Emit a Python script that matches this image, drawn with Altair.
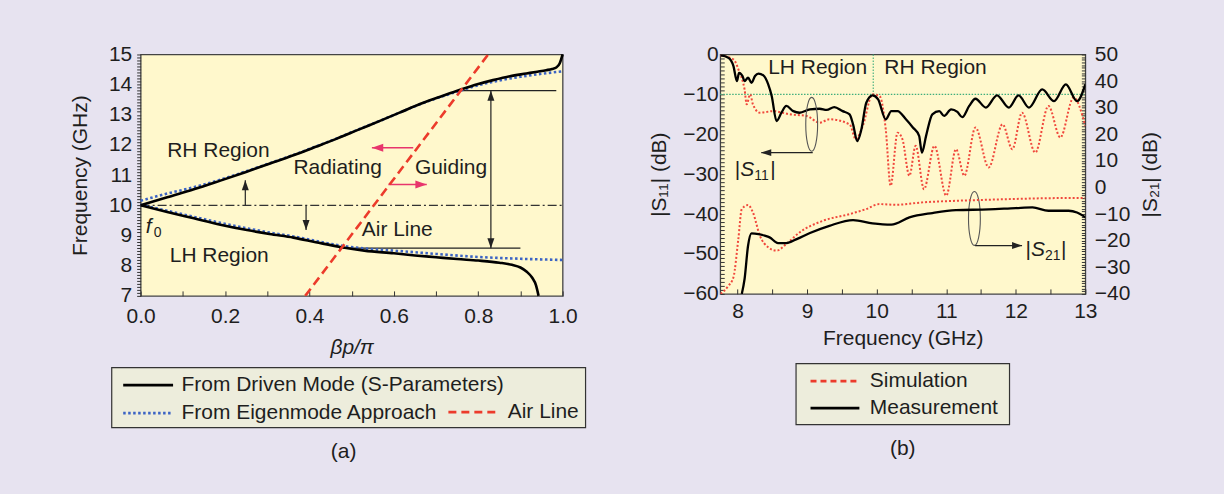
import altair as alt
import pandas as pd

FONT = "Liberation Sans"
TXT = "#1e1e1e"
BG = "#E7E3F0"
PLOT_BG = "#FFF8CC"
LEG_BG = "#EDEDDC"
BLUE = "#3B63C4"
RED = "#EC3B2B"
PINK = "#E8356C"
SIMRED = "#F0483C"
GREEN = "#3FAE7C"

# ---------------- Panel (a): dispersion diagram ----------------
drv_rh_x = [0.0, 0.063, 0.126, 0.189, 0.248, 0.305, 0.362, 0.415, 0.465, 0.515, 0.567, 0.615,
            0.662, 0.71, 0.757, 0.80, 0.835, 0.875, 0.914, 0.94, 0.961, 0.975, 0.985, 0.993, 1.0]
drv_rh_f = [10.0, 10.27, 10.53, 10.82, 11.1, 11.38, 11.66, 11.94, 12.21, 12.5, 12.8, 13.08,
            13.36, 13.6, 13.83, 14.02, 14.15, 14.28, 14.37, 14.43, 14.48, 14.52, 14.57, 14.7, 15.0]
drv_lh_x = [0.0, 0.063, 0.126, 0.189, 0.252, 0.305, 0.362, 0.415, 0.473, 0.53, 0.6, 0.65,
            0.7, 0.75, 0.8, 0.85, 0.88, 0.9, 0.915, 0.928, 0.937, 0.943]
drv_lh_f = [10.0, 9.78, 9.57, 9.36, 9.18, 9.05, 8.93, 8.78, 8.62, 8.5, 8.41, 8.34,
            8.28, 8.22, 8.17, 8.1, 8.03, 7.94, 7.8, 7.6, 7.35, 7.0]
eig_rh_x = [0.0, 0.03, 0.063, 0.126, 0.189, 0.248, 0.305, 0.362, 0.415, 0.465, 0.515,
            0.567, 0.615, 0.662, 0.71, 0.757, 0.80, 0.85, 0.9, 0.95, 1.0]
eig_rh_f = [10.15, 10.27, 10.39, 10.6, 10.85, 11.12, 11.39, 11.67, 11.95, 12.22, 12.51,
            12.8, 13.08, 13.35, 13.59, 13.8, 13.98, 14.14, 14.26, 14.36, 14.44]
eig_lh_x = [0.0, 0.063, 0.126, 0.189, 0.252, 0.305, 0.362, 0.415, 0.473, 0.53, 0.6,
            0.7, 0.8, 0.9, 1.0]
eig_lh_f = [10.02, 9.82, 9.62, 9.42, 9.24, 9.1, 8.97, 8.82, 8.67, 8.57, 8.5,
            8.39, 8.29, 8.23, 8.19]
air_x = [0.39, 0.8235]
air_f = [7.0, 15.0]

f0_level = 10.0
band_top = 13.8
band_bot = 8.58

# black annotation segments (x, x2, f, f2)
seg_a_x = [0.757, 0.47, 0.83, 0.248, 0.392]
seg_a_x2 = [0.985, 0.90, 0.83, 0.248, 0.392]
seg_a_f = [band_top, band_bot, band_bot, f0_level, f0_level]
seg_a_f2 = [band_top, band_bot, band_top, 10.83, 9.18]
head_up_x = [0.248, 0.83]
head_up_f = [10.83, band_top]
head_dn_x = [0.392, 0.83]
head_dn_f = [9.18, band_bot]
# pink arrows
pink_x = [0.646, 0.587]
pink_x2 = [0.548, 0.678]
pink_f = [11.91, 10.69]

txt_a = ["RH Region", "Radiating", "Guiding", "Air Line", "LH Region"]
txt_a_x = [0.063, 0.362, 0.65, 0.524, 0.069]
txt_a_f = [11.79, 11.24, 11.24, 9.18, 8.32]
f0_x = [0.012]
f0_f = [9.28]

leg_a1 = ["From Driven Mode (S-Parameters)", "From Eigenmode Approach"]
leg_a2 = ["Air Line"]

xa_ticks = [round(i * 0.1, 1) for i in range(11)]
ya_ticks = [round(7 + i * 0.1, 1) for i in range(81)]

# ---------------- Panel (b): S-parameters ----------------
s11_meas_f = [7.756, 7.866, 7.94, 7.99, 8.02, 8.07, 8.1, 8.15, 8.2, 8.25, 8.3, 8.37, 8.44, 8.49,
              8.56, 8.63, 8.7, 8.8, 8.89, 9.04, 9.18, 9.28, 9.39, 9.51, 9.61, 9.66, 9.72, 9.78,
              9.85, 9.94, 10.02, 10.13, 10.21, 10.3, 10.42, 10.52, 10.61, 10.65, 10.71, 10.8,
              10.9, 10.97, 11.07, 11.16, 11.23, 11.33, 11.42, 11.57, 11.73, 11.9, 12.04, 12.19,
              12.38, 12.55, 12.72, 12.88, 13.0]
s11_meas_db = [-0.25, -0.8, -2.9, -6.7, -4.6, -5.4, -6.7, -5.8, -7.1, -5.4, -4.8, -5.25, -7.5, -10.4,
               -16.7, -14.6, -12.9, -14.2, -14.6, -13.75, -13.6, -13.9, -13.2, -14.2, -15.0, -17.5, -21.7, -18.75,
               -12.1, -10.25, -11.25, -16.25, -14.2, -14.2, -16.25, -18.3, -20.4, -24.6, -20.4, -15.0,
               -14.2, -15.4, -13.75, -14.4, -15.7, -12.9, -11.1, -13.3, -10.25, -13.3, -10.25, -13.3,
               -8.75, -11.7, -7.5, -11.7, -7.5]
s11_sim_f = [7.756, 7.94, 8.03, 8.07, 8.1, 8.13, 8.18, 8.22, 8.32, 8.51, 8.75, 8.99, 9.18, 9.32,
             9.61, 9.7, 9.8, 9.94, 10.04, 10.13, 10.2, 10.3, 10.37, 10.47, 10.56, 10.68, 10.83,
             11.0, 11.14, 11.26, 11.42, 11.61, 11.81, 11.95, 12.09, 12.28, 12.47, 12.64, 12.83, 13.0]
s11_sim_db = [-0.25, -1.25, -4.6, -6.5, -8.75, -12.5, -10.0, -12.5, -14.6, -14.2, -15.0, -15.4, -17.1, -16.25,
              -17.5, -21.25, -17.9, -10.0, -10.4, -18.75, -32.9, -19.6, -21.25, -30.4, -22.9, -33.75, -22.9,
              -35.4, -23.75, -30.4, -18.3, -28.3, -17.5, -23.75, -14.6, -24.6, -12.9, -20.8, -10.8, -17.9]
s21_meas_f = [8.06, 8.1, 8.15, 8.2, 8.3, 8.39, 8.46, 8.58, 8.7, 8.85, 9.04, 9.32, 9.66, 9.94,
              10.21, 10.47, 10.8, 11.14, 11.61, 12.0, 12.24, 12.47, 12.76, 12.88, 13.0]
s21_meas_db = [-40.0, -34.4, -21.9, -17.25, -17.5, -18.1, -18.75, -20.9, -20.9, -19.4, -17.1, -14.4, -12.25, -13.5,
               -14.0, -11.25, -9.6, -8.5, -8.25, -7.75, -7.5, -8.75, -8.75, -9.4, -11.25]
s21_sim_f = [7.756, 7.87, 7.94, 8.01, 8.06, 8.15, 8.22, 8.32, 8.44, 8.56, 8.7, 8.89, 9.23, 9.61,
             9.85, 10.04, 10.28, 10.66, 11.14, 11.61, 12.09, 12.57, 13.0]
s21_sim_db = [-40.0, -36.9, -33.75, -19.4, -8.1, -6.6, -9.4, -18.1, -22.5, -23.75, -21.25, -16.9, -12.5, -10.0,
              -8.1, -6.25, -6.5, -5.6, -5.0, -4.6, -4.25, -4.0, -4.0]

ref_level_db = -10.0
lhrh_boundary = 9.95
txt_b = ["LH Region", "RH Region"]
txt_b_x = [8.44, 10.11]
txt_b_y = [-3.33, -3.33]
sp_lab = ["11", "21"]
sp_lab_x = [7.96, 12.14]
sp_lab_y = [-28.9, -48.9]
ell_x = [9.065, 11.405]
ell_y = [-17.5, -41.1]
ptr_x = [9.08, 11.415]
ptr_x2 = [8.34, 12.09]
ptr_y = [-24.6, -47.9]

leg_b = ["Simulation", "Measurement"]
xb_ticks = [8 + i * 0.5 for i in range(11)]
yb_ticks = list(range(-60, 1))
yb2_ticks = list(range(-40, 51))

for a, b in [(drv_rh_x, drv_rh_f), (drv_lh_x, drv_lh_f), (eig_rh_x, eig_rh_f), (eig_lh_x, eig_lh_f),
             (s11_meas_f, s11_meas_db), (s11_sim_f, s11_sim_db), (s21_meas_f, s21_meas_db),
             (s21_sim_f, s21_sim_db)]:
    assert len(a) == len(b), (len(a), len(b))

# ---------------- Shared helpers ----------------
UP = "M0,0L0.35,1L-0.35,1Z"
DOWN = "M0,0L0.35,-1L-0.35,-1Z"
LEFT = "M0,0L1,0.35L1,-0.35Z"
RIGHT = "M0,0L-1,0.35L-1,-0.35Z"
ELLIPSE = "M-0.22,0A0.22,1 0 1,1 0.22,0A0.22,1 0 1,1 -0.22,0Z"


def line_df(xs, ys, branch, yname):
    return pd.DataFrame({"x": xs, yname: ys, "branch": branch, "i": list(range(len(xs)))})


# ---------------- Panel (a) encodings ----------------
sx_a = alt.Scale(domain=[0, 1], nice=False, zero=False)
sy_a = alt.Scale(domain=[7, 15], nice=False, zero=False)
ax_xa = alt.Axis(values=xa_ticks, labelExpr="round(datum.value*10) % 2 == 0 ? format(datum.value, '.1f') : ''",
                 title="βp/π", titleFontStyle="italic", tickSize=5, offset=-5, labelPadding=10,
                 titlePadding=10, domain=False, grid=False, labelFlush=False, labelOverlap=False)
ax_ya = alt.Axis(values=ya_ticks, labelExpr="abs(datum.value - round(datum.value)) < 0.01 ? format(datum.value, 'd') : ''",
                 title="Frequency (GHz)", tickSize=4, labelPadding=5, titlePadding=18, domain=False,
                 grid=False, labelOverlap=False)


def XA(field="x"):
    return alt.X(f"{field}:Q", scale=sx_a, axis=ax_xa)


def YA(field="f"):
    return alt.Y(f"{field}:Q", scale=sy_a, axis=ax_ya)


one = pd.DataFrame({"k": [0]})
frame_a = alt.Chart(one).mark_rect(fill=LEG_BG, stroke="#333333", strokeWidth=1.2).encode(
    x=alt.value(-29), x2=alt.value(446), y=alt.value(314), y2=alt.value(374))

dashdot = alt.Chart(pd.DataFrame({"x": [0.0], "x2": [1.0], "f": [f0_level]})).mark_rule(
    color="#333333", strokeWidth=1.3, strokeDash=[9, 3, 2, 3]).encode(x=XA(), x2="x2:Q", y=YA())

drv_df = pd.concat([line_df(drv_rh_x, drv_rh_f, "RH", "f"), line_df(drv_lh_x, drv_lh_f, "LH", "f")])
eig_df = pd.concat([line_df(eig_rh_x, eig_rh_f, "RH", "f"), line_df(eig_lh_x, eig_lh_f, "LH", "f")])
air_df = line_df(air_x, air_f, "air", "f")

drv = alt.Chart(drv_df).mark_line(color="black", strokeWidth=2.6, interpolate="monotone").encode(
    x=XA(), y=YA(), detail="branch:N", order="i:Q")
eig = alt.Chart(eig_df).mark_line(color=BLUE, strokeWidth=2.6, strokeDash=[2.5, 2.5], interpolate="monotone").encode(
    x=XA(), y=YA(), detail="branch:N", order="i:Q")
air = alt.Chart(air_df).mark_line(color=RED, strokeWidth=2.6, strokeDash=[9, 5], clip=True).encode(
    x=XA(), y=YA(), order="i:Q")

seg_df = pd.DataFrame({"x": seg_a_x, "x2": seg_a_x2, "f": seg_a_f, "f2": seg_a_f2})
segs = alt.Chart(seg_df).mark_rule(color="#222222", strokeWidth=1.2).encode(
    x=XA(), x2="x2:Q", y=YA(), y2="f2:Q")
hu = alt.Chart(pd.DataFrame({"x": head_up_x, "f": head_up_f})).mark_point(
    shape=UP, filled=True, size=400, color="#222222", opacity=1).encode(x=XA(), y=YA())
hd = alt.Chart(pd.DataFrame({"x": head_dn_x, "f": head_dn_f})).mark_point(
    shape=DOWN, filled=True, size=400, color="#222222", opacity=1).encode(x=XA(), y=YA())

pink_df = pd.DataFrame({"x": pink_x, "x2": pink_x2, "f": pink_f})
pinks = alt.Chart(pink_df).mark_rule(color=PINK, strokeWidth=1.4).encode(x=XA(), x2="x2:Q", y=YA())
ph_l = alt.Chart(pink_df.iloc[[0]]).mark_point(shape=LEFT, filled=True, size=520, color=PINK, opacity=1).encode(
    x=XA("x2"), y=YA())
ph_r = alt.Chart(pink_df.iloc[[1]]).mark_point(shape=RIGHT, filled=True, size=520, color=PINK, opacity=1).encode(
    x=XA("x2"), y=YA())

txt_a_df = pd.DataFrame({"t": txt_a, "x": txt_a_x, "f": txt_a_f})
texts_a = alt.Chart(txt_a_df).mark_text(align="left", baseline="middle", font=FONT, fontSize=21, color=TXT).encode(
    x=XA(), y=YA(), text="t:N")
f0_df = pd.DataFrame({"x": f0_x, "f": f0_f})
f_txt = alt.Chart(f0_df).mark_text(text="f", align="left", baseline="middle", font=FONT, fontSize=21,
                                   fontStyle="italic", color=TXT).encode(x=XA(), y=YA())
f_sub = alt.Chart(f0_df).mark_text(text="0", align="left", baseline="middle", font=FONT, fontSize=14,
                                   dx=8, dy=6, color=TXT).encode(x=XA(), y=YA())

LEG_COMMON = dict(orient="none", direction="vertical", title=None, labelFontSize=21, labelFont=FONT,
                  labelColor=TXT, labelLimit=600, symbolType="stroke", symbolStrokeWidth=2.6,
                  clipHeight=21, padding=0, zindex=1)
lg1 = alt.Legend(legendX=-19, legendY=321, symbolSize=2500, rowPadding=6, labelOffset=7, **LEG_COMMON)
lg2 = alt.Legend(legendX=307, legendY=348, symbolSize=2500, rowPadding=6, labelOffset=8, **LEG_COMMON)

la1_df = pd.DataFrame({"series": leg_a1, "x": [None] * 2, "f": [None] * 2})
la2_df = pd.DataFrame({"series2": leg_a2, "x": [None], "f": [None]})
leg_a1_chart = alt.Chart(la1_df).mark_line(strokeWidth=2.6).encode(
    x=XA(), y=YA(),
    color=alt.Color("series:N", scale=alt.Scale(domain=leg_a1, range=["black", BLUE]), legend=lg1),
    strokeDash=alt.StrokeDash("series:N", scale=alt.Scale(domain=leg_a1, range=[[1, 0], [2.5, 2.5]]), legend=lg1))
leg_a2_chart = alt.Chart(la2_df).mark_line(strokeWidth=2.6).encode(
    x=XA(), y=YA(),
    color=alt.Color("series2:N", scale=alt.Scale(domain=leg_a2, range=[RED]), legend=lg2),
    strokeDash=alt.StrokeDash("series2:N", scale=alt.Scale(domain=leg_a2, range=[[8, 5]]), legend=lg2))

main_a = alt.layer(frame_a, dashdot, segs, hu, hd, pinks, ph_l, ph_r, eig, drv, air, texts_a, f_txt, f_sub,
                   leg_a1_chart)
panel_a = alt.layer(main_a, leg_a2_chart).resolve_scale(color="independent", strokeDash="independent").properties(
    width=423, height=242,
    title=alt.TitleParams(text="(a)", orient="bottom", fontSize=21, font=FONT, fontWeight="normal",
                          color=TXT, offset=13, dx=-8))

# ---------------- Panel (b) encodings ----------------
sx_b = alt.Scale(domain=[7.75, 13], nice=False, zero=False)
sy_b = alt.Scale(domain=[-60, 0], nice=False, zero=False)
sy_b2 = alt.Scale(domain=[-40, 50], nice=False, zero=False)
MINUS = "replace(format(datum.value, 'd'), '-', '\u2212')"
ax_xb = alt.Axis(values=xb_ticks, labelExpr="datum.value % 1 == 0 ? format(datum.value, 'd') : ''",
                 title="Frequency (GHz)", tickSize=5, offset=-5, labelPadding=7, titlePadding=6,
                 domain=False, grid=False, labelFlush=False, labelOverlap=False)
ax_yb = alt.Axis(values=yb_ticks, labelExpr=f"datum.value % 10 == 0 ? {MINUS} : ''",
                 title="|S\u2081\u2081| (dB)", tickSize=4, offset=-4, labelPadding=2, titlePadding=13,
                 domain=False, grid=False, labelOverlap=False)
ax_yb2 = alt.Axis(values=yb2_ticks, labelExpr=f"datum.value % 10 == 0 ? {MINUS} : ''", orient="right",
                  title="|S\u2082\u2081| (dB)", titleAngle=270, titleBaseline="top", tickSize=4, offset=-4,
                  labelPadding=9, titlePadding=10, domain=False, grid=False, labelOverlap=False)


def XB(field="x"):
    return alt.X(f"{field}:Q", scale=sx_b, axis=ax_xb)


def YB(field="db"):
    return alt.Y(f"{field}:Q", scale=sy_b, axis=ax_yb)


def YB2(field="db"):
    return alt.Y(f"{field}:Q", scale=sy_b2, axis=ax_yb2)


frame_b = alt.Chart(one).mark_rect(fill=LEG_BG, stroke="#333333", strokeWidth=1.2).encode(
    x=alt.value(76), x2=alt.value(290), y=alt.value(310), y2=alt.value(371))
g_h = alt.Chart(pd.DataFrame({"x": [7.75], "x2": [13.0], "db": [ref_level_db]})).mark_rule(
    color=GREEN, strokeWidth=1.1, strokeDash=[1.5, 1.5]).encode(x=XB(), x2="x2:Q", y=YB())
g_v = alt.Chart(pd.DataFrame({"x": [lhrh_boundary], "db": [0.0], "db2": [ref_level_db]})).mark_rule(
    color=GREEN, strokeWidth=1.1, strokeDash=[1.5, 1.5]).encode(x=XB(), y=YB(), y2="db2:Q")

s11_sim = alt.Chart(line_df(s11_sim_f, s11_sim_db, "sim", "db")).mark_line(
    color=SIMRED, strokeWidth=2.0, strokeDash=[2, 2], clip=True, interpolate="monotone").encode(
    x=XB(), y=YB(), order="i:Q")
s11_meas = alt.Chart(line_df(s11_meas_f, s11_meas_db, "meas", "db")).mark_line(
    color="black", strokeWidth=2.3, clip=True, interpolate="monotone").encode(x=XB(), y=YB(), order="i:Q")

txt_b_df = pd.DataFrame({"t": txt_b, "x": txt_b_x, "db": txt_b_y})
texts_b = alt.Chart(txt_b_df).mark_text(align="left", baseline="middle", font=FONT, fontSize=21, color=TXT).encode(
    x=XB(), y=YB(), text="t:N")
sp_df = pd.DataFrame({"sub": sp_lab, "x": sp_lab_x, "db": sp_lab_y})
TB = dict(align="left", baseline="middle", font=FONT, color=TXT)
bar1 = alt.Chart(sp_df).mark_text(text="|", fontSize=21, **TB).encode(x=XB(), y=YB())
s_it = alt.Chart(sp_df).mark_text(text="S", fontSize=21, fontStyle="italic", dx=5.5, **TB).encode(x=XB(), y=YB())
s_sub = alt.Chart(sp_df).mark_text(fontSize=14, dx=19.5, dy=6, **TB).encode(x=XB(), y=YB(), text="sub:N")
bar2 = alt.Chart(sp_df).mark_text(text="|", fontSize=21, dx=35.5, **TB).encode(x=XB(), y=YB())

ell = alt.Chart(pd.DataFrame({"x": ell_x, "db": ell_y})).mark_point(
    shape=ELLIPSE, filled=False, size=2916, color="#555555", strokeWidth=1.1, opacity=1).encode(x=XB(), y=YB())
ptr_df = pd.DataFrame({"x": ptr_x, "x2": ptr_x2, "db": ptr_y})
ptrs = alt.Chart(ptr_df).mark_rule(color="#222222", strokeWidth=1.3).encode(x=XB(), x2="x2:Q", y=YB())
pl = alt.Chart(ptr_df.iloc[[0]]).mark_point(shape=LEFT, filled=True, size=400, color="#222222", opacity=1).encode(
    x=XB("x2"), y=YB())
pr = alt.Chart(ptr_df.iloc[[1]]).mark_point(shape=RIGHT, filled=True, size=400, color="#222222", opacity=1).encode(
    x=XB("x2"), y=YB())

lgb = alt.Legend(legendX=89, legendY=317, symbolSize=2400, rowPadding=5, labelOffset=9, **LEG_COMMON)
lb_df = pd.DataFrame({"series": leg_b, "x": [None] * 2, "db": [None] * 2})
leg_b_chart = alt.Chart(lb_df).mark_line(strokeWidth=2.6).encode(
    x=XB(), y=YB(),
    color=alt.Color("series:N", scale=alt.Scale(domain=leg_b, range=[RED, "black"]), legend=lgb),
    strokeDash=alt.StrokeDash("series:N", scale=alt.Scale(domain=leg_b, range=[[6, 4], [1, 0]]), legend=lgb))

left_b = alt.layer(frame_b, g_h, g_v, s11_sim, s11_meas, texts_b, bar1, s_it, s_sub, bar2, ell, ptrs, pl, pr,
                   leg_b_chart)
s21_sim = alt.Chart(line_df(s21_sim_f, s21_sim_db, "sim", "db")).mark_line(
    color=SIMRED, strokeWidth=2.0, strokeDash=[2, 2], clip=True, interpolate="monotone").encode(
    x=XB(), y=YB2(), order="i:Q")
s21_meas = alt.Chart(line_df(s21_meas_f, s21_meas_db, "meas", "db")).mark_line(
    color="black", strokeWidth=2.3, clip=True, interpolate="monotone").encode(x=XB(), y=YB2(), order="i:Q")
right_b = alt.layer(s21_sim, s21_meas)

panel_b = alt.layer(left_b, right_b).resolve_scale(y="independent").properties(
    width=366, height=240,
    title=alt.TitleParams(text="(b)", orient="bottom", fontSize=21, font=FONT, fontWeight="normal",
                          color=TXT, offset=13))

chart = alt.hconcat(panel_a, panel_b, spacing=60).resolve_scale(
    x="independent", y="independent", color="independent", strokeDash="independent"
).properties(
    background=BG, padding={"left": 68, "top": 42, "right": 62, "bottom": 30}
).configure_view(
    fill=PLOT_BG, stroke="#444444", strokeWidth=1.3
).configure_axis(
    labelFont=FONT, titleFont=FONT, labelFontSize=21, titleFontSize=21, labelColor=TXT, titleColor=TXT,
    titleFontWeight="normal", tickColor="#333333", tickWidth=1
)

chart.save("out.html", embed_options={"renderer": "svg", "actions": False})
